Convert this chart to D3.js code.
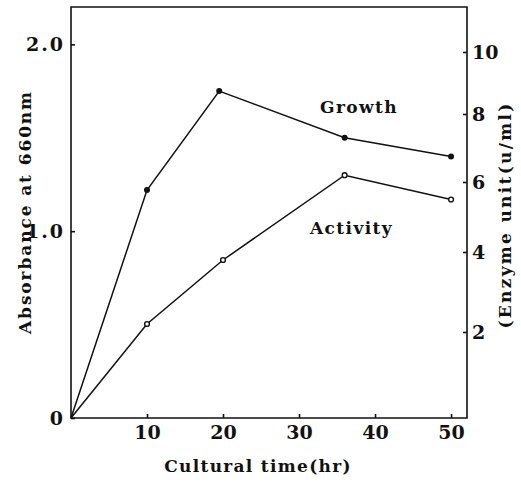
<!DOCTYPE html>
<html>
<head>
<meta charset="utf-8" />
<title>Growth and activity</title>
<script src="https://cdn.jsdelivr.net/npm/d3@7"></script>
<style>
    body { margin: 0; background: #fff; }
    text { font-family: "DejaVu Serif", "Liberation Serif", serif; font-weight: bold; fill: #111; }
    .axis path, .axis line { stroke: #111; stroke-width: 1.6; }
    .line { fill: none; stroke: #111; stroke-width: 1.5; }
</style>
</head>
<body>
<script>
    // values
    var growthTime = [0, 10, 19.5, 36, 50];
    var growthAbs = [0, 1.22, 1.75, 1.50, 1.40];
    var activityTime = [0, 10, 20, 36, 50];
    var activityUnit = [0, 2.2, 3.8, 6.2, 5.5];

    var xTicks = [10, 20, 30, 40, 50];
    var leftTicks = [0, 1.0, 2.0];
    var leftTickLabels = ["0", "1.0", "2.0"];
    var rightTicks = [2, 4, 6, 8, 10];
    // right axis of the original is drawn unevenly, so use a piecewise scale
    var rightDomain = [0, 2, 4, 6, 8, 10];

    var width = 521,
        height = 483;

    var x = d3.scaleLinear().domain([0, 52.1]).range([71, 467]);
    var yLeft = d3.scaleLinear().domain([0, 2.2]).range([418, 7]);
    var yRight = d3.scaleLinear().domain(rightDomain).range([418, 332, 252, 182, 114, 52]);

    var svg = d3.select("body").append("svg")
        .attr("width", width)
        .attr("height", height);

    // frame
    svg.append("path")
        .attr("d", "M" + x(0) + "," + yLeft(0) + "V" + yLeft(2.2) + "H" + x(52.1) + "V" + yLeft(0) + "Z")
        .attr("fill", "none")
        .attr("stroke", "#111")
        .attr("stroke-width", 1.6);

    var xAxis = svg.append("g").attr("class", "axis")
        .attr("transform", "translate(0," + yLeft(0) + ")")
        .call(d3.axisBottom(x).tickValues(xTicks).tickSizeInner(-4).tickSizeOuter(0).tickPadding(8));
    xAxis.select(".domain").remove();
    xAxis.selectAll("text").attr("font-size", 19).attr("fill", "#111");

    var leftAxis = svg.append("g").attr("class", "axis")
        .attr("transform", "translate(" + x(0) + ",0)")
        .call(d3.axisLeft(yLeft).tickValues(leftTicks)
            .tickFormat(function(d, i){ return leftTickLabels[i]; })
            .tickSizeInner(-4).tickSizeOuter(0).tickPadding(6));
    leftAxis.select(".domain").remove();
    leftAxis.selectAll("text").attr("font-size", 19).attr("fill", "#111").attr("letter-spacing", 2);

    var rightAxis = svg.append("g").attr("class", "axis")
        .attr("transform", "translate(" + x(52.1) + ",0)")
        .call(d3.axisRight(yRight).tickValues(rightTicks).tickSizeInner(-4).tickSizeOuter(0).tickPadding(5));
    rightAxis.select(".domain").remove();
    rightAxis.selectAll("text").attr("font-size", 19).attr("fill", "#111");

    var growthData = growthTime.map(function(t, i){ return {t: t, v: growthAbs[i]}; });
    var activityData = activityTime.map(function(t, i){ return {t: t, v: activityUnit[i]}; });

    var growthLine = d3.line()
        .x(function(d){ return x(d.t); })
        .y(function(d){ return yLeft(d.v); });
    var activityLine = d3.line()
        .x(function(d){ return x(d.t); })
        .y(function(d){ return yRight(d.v); });

    svg.append("path").datum(growthData).attr("class", "line").attr("d", growthLine);
    svg.append("path").datum(activityData).attr("class", "line").attr("d", activityLine);

    svg.selectAll("circle.g")
        .data(growthData.slice(1))
      .enter().append("circle")
        .attr("class", "g")
        .attr("cx", function(d){ return x(d.t); })
        .attr("cy", function(d){ return yLeft(d.v); })
        .attr("r", 3)
        .attr("fill", "#111");

    svg.selectAll("circle.a")
        .data(activityData.slice(1))
      .enter().append("circle")
        .attr("class", "a")
        .attr("cx", function(d){ return x(d.t); })
        .attr("cy", function(d){ return yRight(d.v); })
        .attr("r", 2.4)
        .attr("fill", "#fff")
        .attr("stroke", "#111")
        .attr("stroke-width", 1.4);

    // series labels
    svg.append("text").attr("x", 320).attr("y", 113).attr("font-size", 17).attr("letter-spacing", 1.4).text("Growth");
    svg.append("text").attr("x", 310).attr("y", 234).attr("font-size", 17).attr("letter-spacing", 1.4).text("Activity");

    // axis titles
    svg.append("text")
        .attr("x", 258).attr("y", 472)
        .attr("text-anchor", "middle")
        .attr("font-size", 17).attr("letter-spacing", 1.3)
        .text("Cultural time(hr)");

    svg.append("text")
        .attr("transform", "translate(31,212) rotate(-90)")
        .attr("text-anchor", "middle")
        .attr("font-size", 17).attr("letter-spacing", 1.9)
        .text("Absorbance at 660nm");

    svg.append("text")
        .attr("transform", "translate(511,215) rotate(-90)")
        .attr("text-anchor", "middle")
        .attr("font-size", 17).attr("letter-spacing", 2.3)
        .text("(Enzyme unit(u/ml)");
</script>
</body>
</html>
